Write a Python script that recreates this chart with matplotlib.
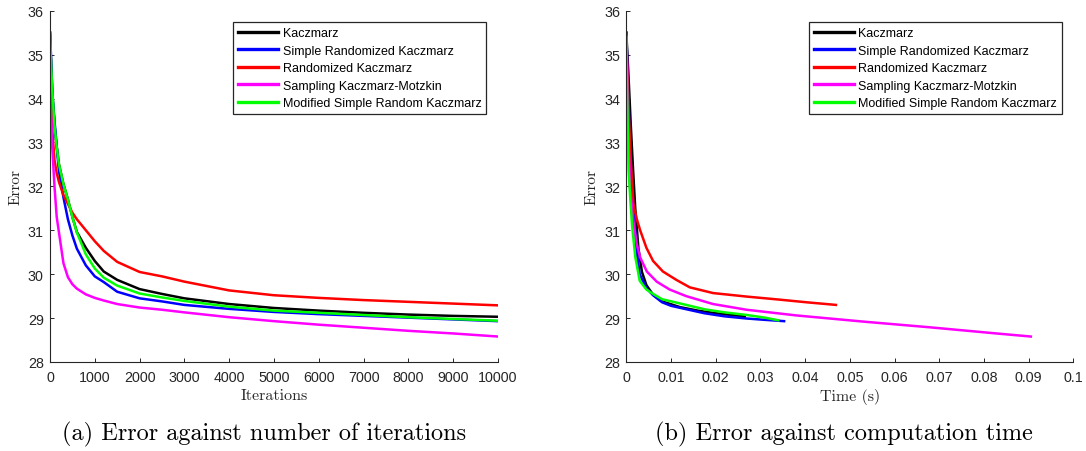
import matplotlib
matplotlib.use("Agg")
import matplotlib.pyplot as plt

# ---------------- data: error vs iterations ----------------
iters = [0, 25, 50, 100, 150, 200, 300, 400, 500, 600, 800, 1000, 1200, 1500,
         2000, 2500, 3000, 4000, 5000, 6000, 7000, 8000, 9000, 10000]
err_k_it = [35.5, 34.8, 34.2, 33.4, 32.9, 32.5, 32.05, 31.7, 31.3, 30.96, 30.6, 30.3,
            30.06, 29.87, 29.66, 29.55, 29.45, 29.32, 29.23, 29.17, 29.12, 29.08, 29.05, 29.03]
err_srk_it = [35.5, 34.9, 34.1, 33.5, 32.9, 32.35, 31.75, 31.25, 30.88, 30.58, 30.2, 29.95,
              29.82, 29.6, 29.45, 29.38, 29.3, 29.21, 29.14, 29.09, 29.05, 29.01, 28.97, 28.93]
err_rk_it = [35.4, 34.2, 33.3, 32.6, 32.3, 32.1, 31.8, 31.6, 31.4, 31.25, 31.0, 30.75,
             30.53, 30.28, 30.05, 29.95, 29.83, 29.63, 29.52, 29.46, 29.41, 29.37, 29.33, 29.29]
err_skm_it = [35.5, 33.8, 32.9, 32.0, 31.3, 30.95, 30.25, 29.93, 29.77, 29.67, 29.54, 29.46,
              29.4, 29.32, 29.24, 29.19, 29.13, 29.02, 28.93, 28.85, 28.78, 28.71, 28.65, 28.58]
err_msrk_it = [35.4, 34.8, 34.2, 33.4, 32.9, 32.5, 32.05, 31.7, 31.3, 30.95, 30.45, 30.13,
               29.92, 29.74, 29.56, 29.47, 29.39, 29.26, 29.17, 29.12, 29.07, 29.02, 28.98, 28.94]

# ---------------- data: error vs computation time ----------------
t_k = [0, 0.0005, 0.001, 0.0015, 0.002, 0.0027, 0.0035, 0.0045, 0.006, 0.008, 0.012,
       0.016, 0.02, 0.0235, 0.0265]
err_k_t = [35.5, 34.5, 33.4, 32.4, 31.5, 30.6, 30.05, 29.75, 29.53, 29.38, 29.25,
           29.17, 29.11, 29.07, 29.04]
t_srk = [0, 0.0004, 0.0008, 0.0012, 0.0016, 0.0023, 0.003, 0.0045, 0.006, 0.008, 0.01,
         0.0135, 0.0175, 0.022, 0.027, 0.031, 0.0353]
err_srk_t = [35.5, 34.3, 33.0, 32.1, 31.5, 30.55, 30.0, 29.68, 29.52, 29.36, 29.28,
             29.2, 29.11, 29.04, 28.99, 28.96, 28.93]
t_rk = [0, 0.0005, 0.001, 0.0016, 0.0023, 0.0031, 0.0045, 0.006, 0.0082, 0.0112, 0.0142,
        0.0194, 0.0269, 0.0343, 0.0403, 0.0469]
err_rk_t = [35.4, 33.8, 32.6, 31.6, 31.27, 31.0, 30.6, 30.3, 30.06, 29.87, 29.7,
            29.57, 29.49, 29.42, 29.36, 29.3]
t_skm = [0, 0.0004, 0.0008, 0.0016, 0.0023, 0.0031, 0.0046, 0.0068, 0.0097, 0.0134, 0.0194,
         0.0269, 0.0381, 0.053, 0.0679, 0.0828, 0.0905]
err_skm_t = [35.45, 33.5, 32.0, 31.2, 30.7, 30.38, 30.06, 29.83, 29.65, 29.5, 29.32,
             29.19, 29.06, 28.92, 28.79, 28.65, 28.58]
t_msrk = [0, 0.0002, 0.0005, 0.0009, 0.0013, 0.002, 0.003, 0.0045, 0.006, 0.008, 0.0134,
          0.0175, 0.022, 0.027, 0.031, 0.034]
err_msrk_t = [35.4, 34.0, 32.4, 31.7, 31.1, 30.4, 29.85, 29.65, 29.55, 29.43, 29.3,
              29.2, 29.13, 29.07, 29.01, 28.95]

labels = ["Kaczmarz", "Simple Randomized Kaczmarz", "Randomized Kaczmarz",
          "Sampling Kaczmarz-Motzkin", "Modified Simple Random Kaczmarz"]
colors = ["#000000", "#0000ff", "#ff0000", "#ff00ff", "#00ff00"]

xticks_it = [0, 1000, 2000, 3000, 4000, 5000, 6000, 7000, 8000, 9000, 10000]
xticks_t = [0, 0.01, 0.02, 0.03, 0.04, 0.05, 0.06, 0.07, 0.08, 0.09, 0.1]
xticklabels_t = ["0", "0.01", "0.02", "0.03", "0.04", "0.05", "0.06", "0.07", "0.08", "0.09", "0.1"]
yticks = [28, 29, 30, 31, 32, 33, 34, 35, 36]

W, H = 1086, 452
fig = plt.figure(figsize=(W / 100, H / 100), dpi=100)

axc = "#262626"
tick_font = "Liberation Sans"
serif = "cmr10"

def style(ax):
    for s in ["top", "right"]:
        ax.spines[s].set_visible(False)
    for s in ["left", "bottom"]:
        ax.spines[s].set_color(axc)
        ax.spines[s].set_linewidth(0.8)
    ax.tick_params(direction="in", length=3.2, width=0.7, color=axc,
                   labelcolor=axc, labelsize=10.3)
    ax.tick_params(axis="x", pad=6)
    ax.tick_params(axis="y", pad=4.5)
    for lab in ax.get_xticklabels() + ax.get_yticklabels():
        lab.set_fontfamily(tick_font)
    ax.set_ylim(28, 36)
    ax.set_yticks(yticks)
    ax.set_ylabel("Error", fontfamily=serif, fontsize=11, color=axc, labelpad=4)

def add_legend(ax):
    leg = ax.legend(loc="upper right", bbox_to_anchor=(0.974, 0.968),
                    borderaxespad=0, fancybox=False, framealpha=1,
                    edgecolor=axc, prop={"family": tick_font, "size": 9},
                    handlelength=3.2, handletextpad=0.35, labelspacing=0.45,
                    borderpad=0.4)
    leg.get_frame().set_linewidth(0.9)
    for line in leg.get_lines():
        line.set_linewidth(2.4)

lw = 1.8

# left axes
ax1 = fig.add_axes([50 / W, 1 - 363 / H, 448 / W, 351.3 / H])
for ys, c, lab in zip([err_k_it, err_srk_it, err_rk_it, err_skm_it, err_msrk_it], colors, labels):
    ax1.plot(iters, ys, color=c, lw=lw, label=lab)
ax1.set_xlim(0, 10000)
ax1.set_xticks(xticks_it)
style(ax1)
ax1.set_xlabel("Iterations", fontfamily=serif, fontsize=11.5, color=axc, labelpad=3)
add_legend(ax1)

# right axes
ax2 = fig.add_axes([626.3 / W, 1 - 363 / H, 447 / W, 351.3 / H])
for xs, ys, c, lab in zip([t_k, t_srk, t_rk, t_skm, t_msrk],
                          [err_k_t, err_srk_t, err_rk_t, err_skm_t, err_msrk_t], colors, labels):
    ax2.plot(xs, ys, color=c, lw=lw, label=lab)
ax2.set_xlim(0, 0.1)
ax2.set_xticks(xticks_t)
ax2.set_xticklabels(xticklabels_t)
style(ax2)
ax2.set_xlabel("Time (s)", fontfamily=serif, fontsize=11.5, color=axc, labelpad=3)
add_legend(ax2)

fig.text(264 / W, 1 - 434 / H, "(a) Error against number of iterations",
         fontfamily=serif, fontsize=17.5, ha="center", va="center", color="black")
fig.text(844 / W, 1 - 434 / H, "(b) Error against computation time",
         fontfamily=serif, fontsize=17.5, ha="center", va="center", color="black")

fig.savefig("out.png", dpi=100, facecolor="white")
